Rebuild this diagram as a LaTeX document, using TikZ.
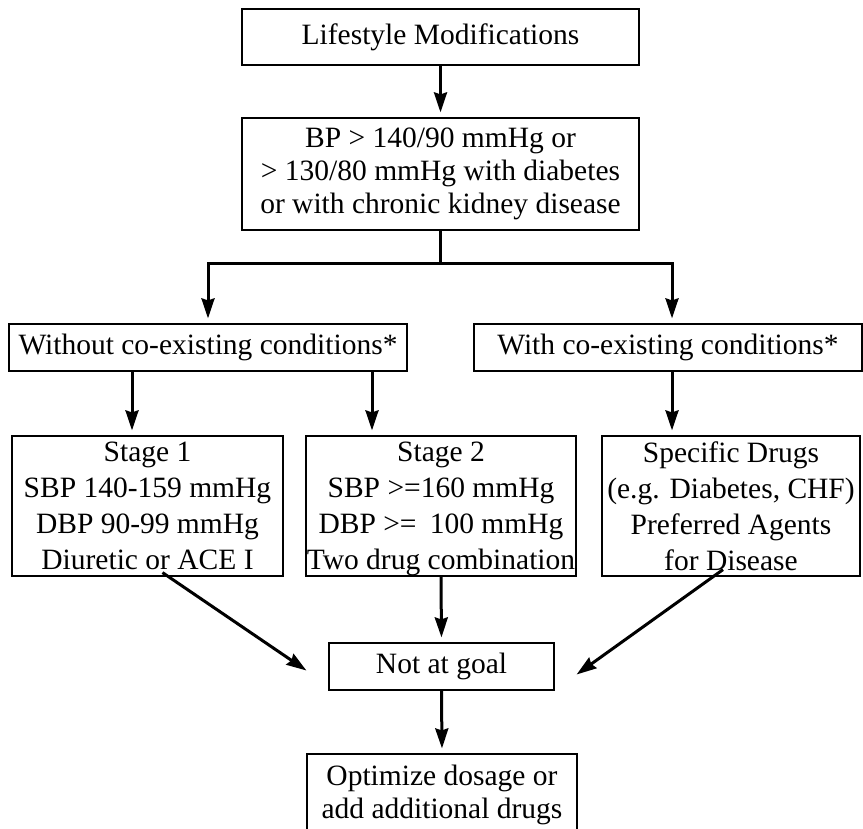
\documentclass[tikz,border=0pt]{standalone}
\usepackage{fontspec}
\setmainfont{Liberation Serif}
\usetikzlibrary{arrows.meta,calc}
\begin{document}
\begin{tikzpicture}[x=1pt,y=-1pt,
  box/.style={draw=black,line width=1.2pt,rectangle,inner sep=0pt,align=center,
    font=\fontsize{29.5}{33}\selectfont},
  stagebox/.style={box,font=\fontsize{29.5}{36}\selectfont,text depth=0pt,
    minimum height=140pt},
  arr/.style={line width=3pt,-{Stealth[length=20pt,width=13pt,inset=2pt]},shorten >=5pt},
  trunk/.style={line width=3pt}]
\useasboundingbox (0,0) rectangle (863,829);
\fill[white] (0,0) rectangle (863,829);
\node[box,minimum width=397pt,minimum height=56pt] (life) at (440.5,37) {Lifestyle Modifications};
\node[box,minimum width=397pt,minimum height=112pt] (bp) at (440.5,174)
  {BP > 140/90 mmHg or\\> 130/80 mmHg with diabetes\\or with chronic kidney disease};
\node[box,minimum width=398pt,minimum height=47pt] (wo) at (208,347.5) {Without co-existing conditions*};
\node[box,minimum width=388pt,minimum height=47pt] (wi) at (668,347.5) {With co-existing conditions*};
\node[stagebox,minimum width=271pt] (s1) at (147.5,506)
  {Stage 1\\SBP 140-159 mmHg\\DBP 90-99 mmHg\\Diuretic or ACE I};
\node[stagebox,minimum width=270pt] (s2) at (441,506)
  {Stage 2\\SBP >=160 mmHg\\DBP >=\hspace{0.45em}100 mmHg\\Two drug combination};
\node[stagebox,minimum width=258pt] (sd) at (731,506)
  {Specific Drugs\\(e.g. Diabetes, CHF)\\Preferred Agents\\for Disease};
\node[box,minimum width=225pt,minimum height=47pt] (nag) at (441.5,666.5) {Not at goal};
\node[box,minimum width=270pt,minimum height=82pt] (opt) at (442,795)
  {Optimize dosage or\\add additional drugs};
% connectors
\draw[arr] (life.south) -- (bp.north);
\coordinate (jn) at ($(bp.south)+(0,33)$);
\draw[trunk] (bp.south) -- (jn);
\coordinate (jl) at (wo.north |- jn);
\coordinate (jr) at ([xshift=4pt]wi.north |- jn);
\draw[trunk,line cap=rect] (jl) -- (jr);
\draw[arr] (jl) -- (wo.north);
\draw[arr] (jr) -- ([xshift=4pt]wi.north);
\draw[arr] ([xshift=-76pt]wo.south) -- ([xshift=-76pt]wo.south |- s1.north);
\draw[arr] ([xshift=164pt]wo.south) -- ([xshift=164pt]wo.south |- s2.north);
\draw[arr] ([xshift=4pt]wi.south) -- ([xshift=4pt]wi.south |- sd.north);
\draw[arr] (s2.south) -- (nag.north);
\draw[arr,shorten >=0pt] ([xshift=15pt,yshift=4pt]s1.south) -- ([xshift=-22pt,yshift=-4pt]nag.west);
\draw[arr,shorten >=0pt] ([xshift=-8pt,yshift=7pt]sd.south) -- ([xshift=22pt,yshift=-8pt]nag.east);
\draw[arr] (nag.south) -- (opt.north);
\end{tikzpicture}
\end{document}
